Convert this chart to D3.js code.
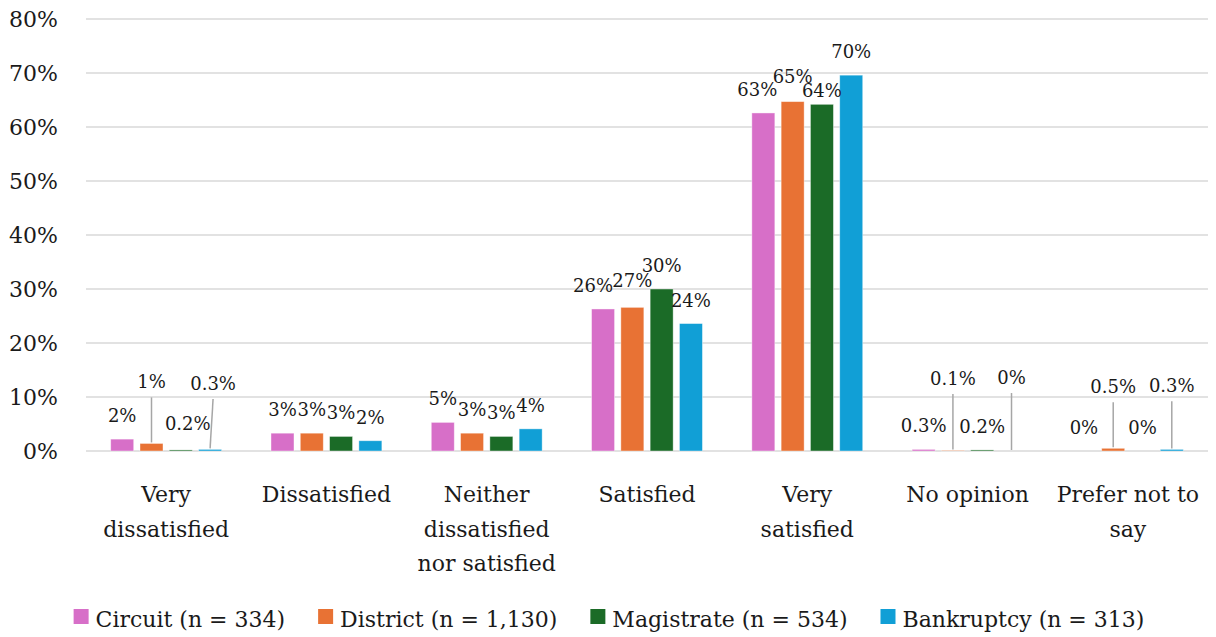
<!DOCTYPE html>
<html>
<head>
<meta charset="utf-8">
<script src="https://cdn.jsdelivr.net/npm/d3@7/dist/d3.min.js"></script>
<style>
  body { margin: 0; background: #fff; }
  svg { display: block; font-family: "DejaVu Serif", serif; }
</style>
</head>
<body>
<div id="chart"></div>
<script>
// data (percent)
const categories = ["Very dissatisfied", "Dissatisfied", "Neither dissatisfied nor satisfied",
                    "Satisfied", "Very satisfied", "No opinion", "Prefer not to say"];
const categoryLines = [["Very", "dissatisfied"], ["Dissatisfied"], ["Neither", "dissatisfied", "nor satisfied"],
                       ["Satisfied"], ["Very", "satisfied"], ["No opinion"], ["Prefer not to", "say"]];
const seriesNames = ["Circuit (n = 334)", "District (n = 1,130)", "Magistrate (n = 534)", "Bankruptcy (n = 313)"];
const circuit    = [2.2, 3.3, 5.3, 26.3, 62.6, 0.3, 0];
const district   = [1.4, 3.3, 3.3, 26.6, 64.7, 0.1, 0.5];
const magistrate = [0.2, 2.7, 2.7, 30.0, 64.2, 0.2, 0];
const bankruptcy = [0.3, 1.9, 4.1, 23.6, 69.6, 0, 0.3];
const yTicks = [0, 10, 20, 30, 40, 50, 60, 70, 80];

const colors = ["#D76FC8", "#E87234", "#1B6B27", "#119FD6"];
const allSeries = [circuit, district, magistrate, bankruptcy];

// label placement tweaks (Excel moved a few labels by hand)
// lift = label level in % with a leader line, dx/dy = pixel nudges
const labelTweaks = {
  "0|1": {lift: 11.6},
  "0|2": {dx: 7, dy: -3},
  "0|3": {lift: 11.3, dx: 3},
  "3|0": {dx: -10},
  "3|1": {dy: -3},
  "4|0": {dx: -6},
  "4|1": {dy: -2},
  "4|2": {dy: 10},
  "5|1": {lift: 12.2},
  "5|3": {lift: 12.4},
  "6|1": {lift: 10.7},
  "6|3": {lift: 10.9}
};

const W = 1216, H = 637;
const svg = d3.select("#chart").append("svg")
    .attr("width", W)
    .attr("height", H);

const x = d3.scaleBand().domain(categories).range([86, 1208]).padding(0);
const xs = d3.scaleBand().domain(d3.range(4))
    .range([x.bandwidth() * 0.1345, x.bandwidth() * 0.8655])
    .paddingInner(0.215).paddingOuter(0.1075);
const y = d3.scaleLinear().domain([0, 80]).range([451, 19]);

function fmt(v) {
  if (v === 0) return "0%";
  if (v < 1) return v.toFixed(1) + "%";
  return Math.round(v) + "%";
}

// gridlines
svg.append("g").selectAll("line")
  .data(yTicks)
  .enter().append("line")
    .attr("x1", 86).attr("x2", 1208)
    .attr("y1", d => y(d)).attr("y2", d => y(d))
    .attr("stroke", "#D9D9D9")
    .attr("stroke-width", 1.5);

// y labels
svg.append("g").selectAll("text")
  .data(yTicks)
  .enter().append("text")
    .attr("x", 58)
    .attr("y", d => y(d))
    .attr("dy", "0.36em")
    .attr("text-anchor", "end")
    .attr("font-size", 22)
    .attr("fill", "#1a1a1a")
    .text(d => d + "%");

// bars
const groups = svg.append("g").selectAll("g")
  .data(categories)
  .enter().append("g")
    .attr("transform", d => "translate(" + x(d) + ",0)");

groups.selectAll("rect")
  .data((c, ci) => allSeries.map((s, si) => ({ci: ci, si: si, v: s[ci]})))
  .enter().append("rect")
    .attr("x", d => xs(d.si))
    .attr("width", xs.bandwidth())
    .attr("y", d => y(d.v))
    .attr("height", d => y(0) - y(d.v))
    .attr("fill", d => colors[d.si])
    .attr("stroke", "#fff")
    .attr("stroke-opacity", 0.5)
    .attr("stroke-width", 0.8);

// data labels
const labels = [];
categories.forEach((c, ci) => {
  allSeries.forEach((s, si) => {
    const t = labelTweaks[ci + "|" + si] || {};
    const bx = x(c) + xs(s.length ? si : 0) + xs.bandwidth() / 2;
    labels.push({
      v: s[ci], bx: bx,
      lx: bx + (t.dx || 0),
      ly: t.lift !== undefined ? y(t.lift) : y(s[ci]) - 17 + (t.dy || 0),
      lead: t.lift !== undefined
    });
  });
});

svg.append("g").selectAll("line")
  .data(labels.filter(d => d.lead))
  .enter().append("line")
    .attr("x1", d => d.lx).attr("y1", d => d.ly + 9)
    .attr("x2", d => d.bx).attr("y2", d => y(d.v) - 1)
    .attr("stroke", "#A6A6A6")
    .attr("stroke-width", 1.5);

svg.append("g").selectAll("text")
  .data(labels)
  .enter().append("text")
    .attr("x", d => d.lx)
    .attr("y", d => d.ly)
    .attr("text-anchor", "middle")
    .attr("font-size", 18)
    .attr("fill", "#1a1a1a")
    .text(d => fmt(d.v));

// category labels
const catText = svg.append("g").selectAll("text")
  .data(categories)
  .enter().append("text")
    .attr("x", d => x(d) + x.bandwidth() / 2)
    .attr("y", 502)
    .attr("text-anchor", "middle")
    .attr("font-size", 22)
    .attr("fill", "#1a1a1a");

catText.selectAll("tspan")
  .data((d, i) => categoryLines[i])
  .enter().append("tspan")
    .attr("x", function() { return d3.select(this.parentNode).attr("x"); })
    .attr("dy", (d, i) => i === 0 ? 0 : 34.5)
    .text(d => d);

// legend
const legend = svg.append("g");
let lx = 0;
seriesNames.forEach((name, i) => {
  const item = legend.append("g").attr("transform", "translate(" + lx + ",0)");
  item.append("rect")
    .attr("x", 0).attr("y", 609)
    .attr("width", 15).attr("height", 15)
    .attr("fill", colors[i]);
  const t = item.append("text")
    .attr("x", 22).attr("y", 627)
    .attr("font-size", 22)
    .attr("fill", "#1a1a1a")
    .text(name);
  lx += 22 + t.node().getComputedTextLength() + 33;
});
const legendW = lx - 33;
legend.attr("transform", "translate(" + ((W - legendW) / 2 + 1) + ",0)");
</script>
</body>
</html>
